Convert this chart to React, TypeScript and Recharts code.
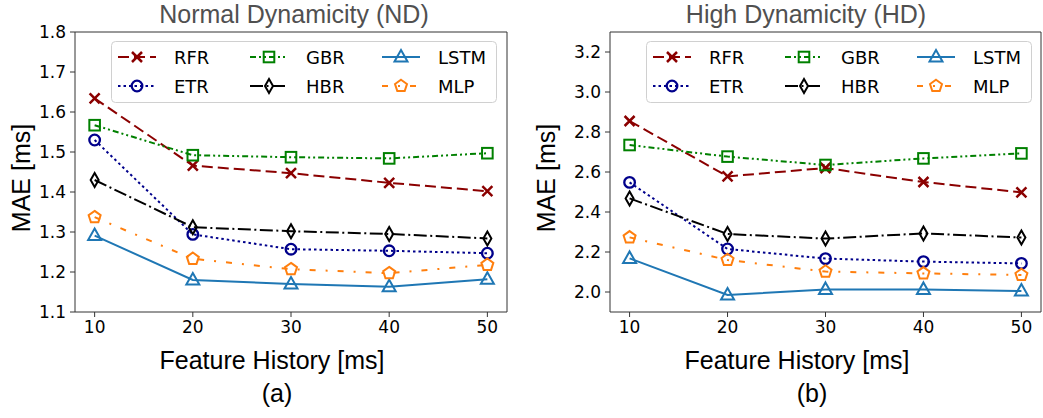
import React from "react";
import { LineChart, Line, XAxis, YAxis, ReferenceArea } from "recharts";

const history = [10, 20, 30, 40, 50];
const xTicks = [10, 20, 30, 40, 50];

// Normal Dynamicity (ND)
const ndRFR = [1.634, 1.466, 1.447, 1.423, 1.402];
const ndETR = [1.53, 1.294, 1.257, 1.253, 1.247];
const ndGBR = [1.567, 1.492, 1.487, 1.484, 1.497];
const ndHBR = [1.43, 1.312, 1.302, 1.295, 1.284];
const ndLSTM = [1.291, 1.18, 1.17, 1.163, 1.182];
const ndMLP = [1.337, 1.233, 1.207, 1.197, 1.218];
const ndTicks = [1.1, 1.2, 1.3, 1.4, 1.5, 1.6, 1.7, 1.8];

// High Dynamicity (HD)
const hdRFR = [2.855, 2.578, 2.62, 2.55, 2.498];
const hdETR = [2.548, 2.215, 2.167, 2.152, 2.143];
const hdGBR = [2.735, 2.677, 2.635, 2.668, 2.693];
const hdHBR = [2.468, 2.29, 2.267, 2.293, 2.272];
const hdLSTM = [2.168, 1.985, 2.013, 2.013, 2.005];
const hdMLP = [2.273, 2.16, 2.102, 2.093, 2.085];
const hdTicks = [2.0, 2.2, 2.4, 2.6, 2.8, 3.0, 3.2];

type Kind = "x" | "circle" | "square" | "diamond" | "triangle" | "pentagon";

const series: { key: string; color: string; dash?: string; marker: Kind }[] = [
  { key: "RFR", color: "#8b0000", dash: "11 5", marker: "x" },
  { key: "ETR", color: "#00008b", dash: "2.5 3", marker: "circle" },
  { key: "GBR", color: "#008000", dash: "6 3 2 3 2 3", marker: "square" },
  { key: "HBR", color: "#000000", dash: "13 3.5 2 3.5", marker: "diamond" },
  { key: "LSTM", color: "#1f77b4", marker: "triangle" },
  { key: "MLP", color: "#ff7f0e", dash: "6 10 2 10", marker: "pentagon" },
];

function buildRows(cols: Record<string, number[]>) {
  return history.map((h, i) => {
    const row: Record<string, number> = { history: h };
    Object.keys(cols).forEach((k) => (row[k] = cols[k][i]));
    return row;
  });
}

const ndRows = buildRows({ RFR: ndRFR, ETR: ndETR, GBR: ndGBR, HBR: ndHBR, LSTM: ndLSTM, MLP: ndMLP });
const hdRows = buildRows({ RFR: hdRFR, ETR: hdETR, GBR: hdGBR, HBR: hdHBR, LSTM: hdLSTM, MLP: hdMLP });

function Marker({ kind, cx, cy, color }: { kind: Kind; cx: number; cy: number; color: string }) {
  const common = { stroke: color, strokeWidth: 2, fill: "none" };
  switch (kind) {
    case "x":
      return (
        <path
          d={`M${cx - 5},${cy - 5}L${cx + 5},${cy + 5}M${cx - 5},${cy + 5}L${cx + 5},${cy - 5}`}
          {...common}
          strokeWidth={2.5}
        />
      );
    case "circle":
      return <circle cx={cx} cy={cy} r={5.3} {...common} strokeWidth={2.3} />;
    case "square":
      return <rect x={cx - 5.3} y={cy - 5.3} width={10.6} height={10.6} {...common} />;
    case "diamond":
      return <polygon points={`${cx},${cy - 7} ${cx + 4},${cy} ${cx},${cy + 7} ${cx - 4},${cy}`} {...common} />;
    case "triangle":
      return <polygon points={`${cx},${cy - 7} ${cx + 6.5},${cy + 4.5} ${cx - 6.5},${cy + 4.5}`} {...common} />;
    case "pentagon": {
      const pts = [0, 1, 2, 3, 4]
        .map((i) => {
          const a = -Math.PI / 2 + (i * 2 * Math.PI) / 5;
          return `${cx + 6.3 * Math.cos(a)},${cy + 6.3 * Math.sin(a)}`;
        })
        .join(" ");
      return <polygon points={pts} {...common} />;
    }
  }
}

const legendCols = [
  ["RFR", "ETR"],
  ["GBR", "HBR"],
  ["LSTM", "MLP"],
];

function LegendBox({ left }: { left: number }) {
  return (
    <svg width={386} height={62} style={{ position: "absolute", left, top: 41 }}>
      <rect x={0.5} y={0.5} width={385} height={61} rx={4} fill="rgba(255,255,255,0.85)" stroke="#d0d0d0" />
      {legendCols.map((col, ci) =>
        col.map((name, ri) => {
          const s = series.find((d) => d.key === name)!;
          const x0 = 7 + ci * 132;
          const y = 16 + ri * 29;
          return (
            <g key={name}>
              <line
                x1={x0}
                x2={x0 + 38}
                y1={y}
                y2={y}
                stroke={s.color}
                strokeWidth={2}
                strokeDasharray={s.dash}
              />
              <Marker kind={s.marker} cx={x0 + 19} cy={y} color={s.color} />
              <text
                x={x0 + 56}
                y={y}
                dominantBaseline="central"
                fontFamily="DejaVu Sans"
                fontSize={18}
                fill="#000"
              >
                {name}
              </text>
            </g>
          );
        })
      )}
    </svg>
  );
}

const tickStyle = { fill: "#000", fontSize: 17, fontFamily: "DejaVu Sans" };

function Panel({
  rows,
  yDomain,
  yTicks,
  width,
  marginLeft,
  marginRight,
}: {
  rows: Record<string, number>[];
  yDomain: [number, number];
  yTicks: number[];
  width: number;
  marginLeft: number;
  marginRight: number;
}) {
  return (
    <LineChart
      width={width}
      height={418}
      data={rows}
      margin={{ top: 32, right: marginRight, bottom: 76, left: marginLeft }}
    >
      <XAxis
        dataKey="history"
        type="number"
        domain={[8, 52]}
        ticks={xTicks}
        height={30}
        axisLine={false}
        tickSize={5}
        tickMargin={4}
        tickLine={{ stroke: "#333" }}
        tick={tickStyle}
        allowDataOverflow
      />
      <YAxis
        type="number"
        domain={yDomain}
        ticks={yTicks}
        width={60}
        axisLine={false}
        tickSize={5}
        tickMargin={4}
        tickLine={{ stroke: "#333" }}
        tick={tickStyle}
        tickFormatter={(v: number) => v.toFixed(1)}
        allowDataOverflow
      />
      <ReferenceArea x1={8} x2={52} y1={yDomain[0]} y2={yDomain[1]} fill="none" stroke="#333" strokeWidth={1} />
      {series.map((s) => (
        <Line
          key={s.key}
          dataKey={s.key}
          stroke={s.color}
          strokeWidth={2}
          strokeDasharray={s.dash}
          isAnimationActive={false}
          dot={(p: any) => <Marker key={`${s.key}-${p.index}`} kind={s.marker} cx={p.cx} cy={p.cy} color={s.color} />}
          activeDot={false}
        />
      ))}
    </LineChart>
  );
}

const labelFont = "Liberation Sans, Arial, sans-serif";

export default function App() {
  return (
    <div style={{ position: "absolute", left: 0, top: 0, width: 1043, height: 418, background: "#fff" }}>
      <div style={{ position: "absolute", left: 0, top: 0 }}>
        <Panel rows={ndRows} yDomain={[1.1, 1.8]} yTicks={ndTicks} width={520} marginLeft={15} marginRight={13} />
      </div>
      <div style={{ position: "absolute", left: 520, top: 0 }}>
        <Panel rows={hdRows} yDomain={[1.9, 3.3]} yTicks={hdTicks} width={523} marginLeft={30} marginRight={2} />
      </div>
      <LegendBox left={111} />
      <LegendBox left={646} />
      <svg width={1043} height={418} style={{ position: "absolute", left: 0, top: 0, pointerEvents: "none" }}>
        <g fontFamily={labelFont} fontSize={25} textAnchor="middle">
          <text x={294} y={23} fill="#505050">Normal Dynamicity (ND)</text>
          <text x={806} y={23} fill="#505050">High Dynamicity (HD)</text>
          <text x={272} y={369} fill="#000">Feature History [ms]</text>
          <text x={797} y={369} fill="#000">Feature History [ms]</text>
          <text x={277} y={402} fill="#000">(a)</text>
          <text x={812} y={402} fill="#000">(b)</text>
          <text x={30} y={178} fill="#000" transform="rotate(-90 30 178)">MAE [ms]</text>
          <text x={555} y={178} fill="#000" transform="rotate(-90 555 178)">MAE [ms]</text>
        </g>
      </svg>
    </div>
  );
}
